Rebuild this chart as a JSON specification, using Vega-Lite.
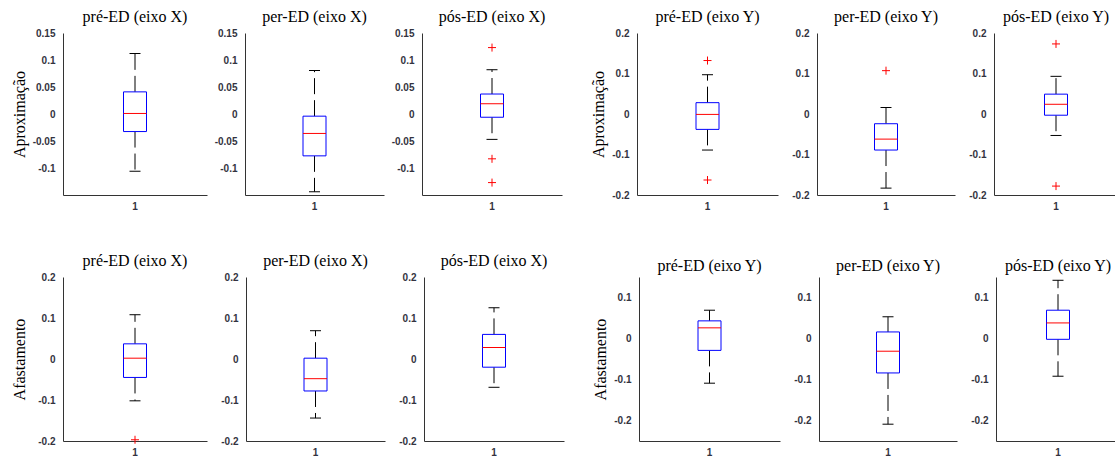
{
  "$schema": "https://vega.github.io/schema/vega-lite/v6.json",
  "padding": {"left": 11, "top": 9, "right": 0, "bottom": 0},
  "datasets": {
    "d": [
      {"p": 1, "n": "1", "lo": -0.106, "q1": -0.0325, "med": 0.001, "q3": 0.041, "hi": 0.112},
      {"p": 2, "n": "1", "lo": -0.144, "q1": -0.0775, "med": -0.036, "q3": -0.004, "hi": 0.0806},
      {"p": 3, "n": "1", "lo": -0.047, "q1": -0.006, "med": 0.019, "q3": 0.037, "hi": 0.082},
      {"p": 3, "n": "1", "out": 0.123},
      {"p": 3, "n": "1", "out": -0.083},
      {"p": 3, "n": "1", "out": -0.127},
      {"p": 4, "n": "1", "lo": -0.089, "q1": -0.038, "med": -0.001, "q3": 0.028, "hi": 0.097},
      {"p": 4, "n": "1", "out": 0.132},
      {"p": 4, "n": "1", "out": -0.163},
      {"p": 5, "n": "1", "lo": -0.183, "q1": -0.089, "med": -0.062, "q3": -0.024, "hi": 0.016},
      {"p": 5, "n": "1", "out": 0.107},
      {"p": 6, "n": "1", "lo": -0.053, "q1": -0.003, "med": 0.024, "q3": 0.049, "hi": 0.093},
      {"p": 6, "n": "1", "out": 0.173},
      {"p": 6, "n": "1", "out": -0.178},
      {"p": 7, "n": "1", "lo": -0.102, "q1": -0.045, "med": 0.002, "q3": 0.037, "hi": 0.108},
      {"p": 7, "n": "1", "out": -0.197},
      {"p": 8, "n": "1", "lo": -0.144, "q1": -0.078, "med": -0.048, "q3": 0.002, "hi": 0.069},
      {"p": 9, "n": "1", "lo": -0.069, "q1": -0.020, "med": 0.028, "q3": 0.060, "hi": 0.125},
      {"p": 10, "n": "1", "lo": -0.109, "q1": -0.029, "med": 0.026, "q3": 0.043, "hi": 0.069},
      {"p": 11, "n": "1", "lo": -0.209, "q1": -0.084, "med": -0.031, "q3": 0.016, "hi": 0.053},
      {"p": 12, "n": "1", "lo": -0.092, "q1": -0.002, "med": 0.038, "q3": 0.069, "hi": 0.142}
    ]
  },
  "spacing": 42,
  "vconcat": [
    {
      "spacing": 28,
      "hconcat": [
        {
          "spacing": 7,
          "hconcat": [
            {
              "width": 144, "height": 162, "title": "pré-ED (eixo X)",
              "data": {"name": "d"}, "transform": [{"filter": "datum.p == 1"}],
              "layer": [
                {"mark": {"type": "rule", "color": "black", "strokeDash": [16, 6]}, "encoding": {"x": {"field": "n", "type": "nominal", "title": null, "scale": {"paddingInner": 0, "paddingOuter": 0}, "axis": {"labelAngle": 0, "labelPadding": 6}}, "y": {"field": "q3", "type": "quantitative", "title": "Aproximação", "scale": {"domain": [-0.15, 0.15], "nice": false, "zero": false}, "axis": {"values": [-0.1, -0.05, 0, 0.05, 0.1, 0.15], "tickCount": 10, "labelExpr": "'' + datum.value"}}, "y2": {"field": "hi"}}},
                {"mark": {"type": "rule", "color": "black", "strokeDash": [16, 6]}, "encoding": {"x": {"field": "n", "type": "nominal", "title": null}, "y": {"field": "q1", "type": "quantitative", "title": "Aproximação"}, "y2": {"field": "lo"}}},
                {"mark": {"type": "bar", "width": 23, "fill": "white", "stroke": "#0000ff", "strokeWidth": 1}, "encoding": {"x": {"field": "n", "type": "nominal", "title": null}, "y": {"field": "q1", "type": "quantitative", "title": "Aproximação"}, "y2": {"field": "q3"}}},
                {"mark": {"type": "tick", "color": "#ff0000", "size": 23, "thickness": 1, "opacity": 1}, "encoding": {"x": {"field": "n", "type": "nominal", "title": null}, "y": {"field": "med", "type": "quantitative", "title": "Aproximação"}}},
                {"mark": {"type": "tick", "color": "black", "size": 11, "thickness": 1, "opacity": 1}, "encoding": {"x": {"field": "n", "type": "nominal", "title": null}, "y": {"field": "hi", "type": "quantitative", "title": "Aproximação"}}},
                {"mark": {"type": "tick", "color": "black", "size": 11, "thickness": 1, "opacity": 1}, "encoding": {"x": {"field": "n", "type": "nominal", "title": null}, "y": {"field": "lo", "type": "quantitative", "title": "Aproximação"}}},
                {"mark": {"type": "point", "shape": "M-1,0H1M0,-1V1", "filled": false, "stroke": "#ff0000", "strokeWidth": 1, "size": 64, "opacity": 1}, "encoding": {"x": {"field": "n", "type": "nominal", "title": null}, "y": {"field": "out", "type": "quantitative", "title": "Aproximação"}}}
              ]
            },
            {
              "width": 139, "height": 162, "title": "per-ED (eixo X)",
              "data": {"name": "d"}, "transform": [{"filter": "datum.p == 2"}],
              "layer": [
                {"mark": {"type": "rule", "color": "black", "strokeDash": [16, 6]}, "encoding": {"x": {"field": "n", "type": "nominal", "title": null, "scale": {"paddingInner": 0, "paddingOuter": 0}, "axis": {"labelAngle": 0, "labelPadding": 6}}, "y": {"field": "q3", "type": "quantitative", "title": null, "scale": {"domain": [-0.15, 0.15], "nice": false, "zero": false}, "axis": {"values": [-0.1, -0.05, 0, 0.05, 0.1, 0.15], "tickCount": 10, "labelExpr": "'' + datum.value"}}, "y2": {"field": "hi"}}},
                {"mark": {"type": "rule", "color": "black", "strokeDash": [16, 6]}, "encoding": {"x": {"field": "n", "type": "nominal", "title": null}, "y": {"field": "q1", "type": "quantitative", "title": null}, "y2": {"field": "lo"}}},
                {"mark": {"type": "bar", "width": 23, "fill": "white", "stroke": "#0000ff", "strokeWidth": 1}, "encoding": {"x": {"field": "n", "type": "nominal", "title": null}, "y": {"field": "q1", "type": "quantitative", "title": null}, "y2": {"field": "q3"}}},
                {"mark": {"type": "tick", "color": "#ff0000", "size": 23, "thickness": 1, "opacity": 1}, "encoding": {"x": {"field": "n", "type": "nominal", "title": null}, "y": {"field": "med", "type": "quantitative", "title": null}}},
                {"mark": {"type": "tick", "color": "black", "size": 11, "thickness": 1, "opacity": 1}, "encoding": {"x": {"field": "n", "type": "nominal", "title": null}, "y": {"field": "hi", "type": "quantitative", "title": null}}},
                {"mark": {"type": "tick", "color": "black", "size": 11, "thickness": 1, "opacity": 1}, "encoding": {"x": {"field": "n", "type": "nominal", "title": null}, "y": {"field": "lo", "type": "quantitative", "title": null}}},
                {"mark": {"type": "point", "shape": "M-1,0H1M0,-1V1", "filled": false, "stroke": "#ff0000", "strokeWidth": 1, "size": 64, "opacity": 1}, "encoding": {"x": {"field": "n", "type": "nominal", "title": null}, "y": {"field": "out", "type": "quantitative", "title": null}}}
              ]
            },
            {
              "width": 140, "height": 162, "title": "pós-ED (eixo X)",
              "data": {"name": "d"}, "transform": [{"filter": "datum.p == 3"}],
              "layer": [
                {"mark": {"type": "rule", "color": "black", "strokeDash": [16, 6]}, "encoding": {"x": {"field": "n", "type": "nominal", "title": null, "scale": {"paddingInner": 0, "paddingOuter": 0}, "axis": {"labelAngle": 0, "labelPadding": 6}}, "y": {"field": "q3", "type": "quantitative", "title": null, "scale": {"domain": [-0.15, 0.15], "nice": false, "zero": false}, "axis": {"values": [-0.1, -0.05, 0, 0.05, 0.1, 0.15], "tickCount": 10, "labelExpr": "'' + datum.value"}}, "y2": {"field": "hi"}}},
                {"mark": {"type": "rule", "color": "black", "strokeDash": [16, 6]}, "encoding": {"x": {"field": "n", "type": "nominal", "title": null}, "y": {"field": "q1", "type": "quantitative", "title": null}, "y2": {"field": "lo"}}},
                {"mark": {"type": "bar", "width": 23, "fill": "white", "stroke": "#0000ff", "strokeWidth": 1}, "encoding": {"x": {"field": "n", "type": "nominal", "title": null}, "y": {"field": "q1", "type": "quantitative", "title": null}, "y2": {"field": "q3"}}},
                {"mark": {"type": "tick", "color": "#ff0000", "size": 23, "thickness": 1, "opacity": 1}, "encoding": {"x": {"field": "n", "type": "nominal", "title": null}, "y": {"field": "med", "type": "quantitative", "title": null}}},
                {"mark": {"type": "tick", "color": "black", "size": 11, "thickness": 1, "opacity": 1}, "encoding": {"x": {"field": "n", "type": "nominal", "title": null}, "y": {"field": "hi", "type": "quantitative", "title": null}}},
                {"mark": {"type": "tick", "color": "black", "size": 11, "thickness": 1, "opacity": 1}, "encoding": {"x": {"field": "n", "type": "nominal", "title": null}, "y": {"field": "lo", "type": "quantitative", "title": null}}},
                {"mark": {"type": "point", "shape": "M-1,0H1M0,-1V1", "filled": false, "stroke": "#ff0000", "strokeWidth": 1, "size": 64, "opacity": 1}, "encoding": {"x": {"field": "n", "type": "nominal", "title": null}, "y": {"field": "out", "type": "quantitative", "title": null}}}
              ]
            }
          ]
        },
        {
          "spacing": 13,
          "hconcat": [
            {
              "width": 141, "height": 162, "title": "pré-ED (eixo Y)",
              "data": {"name": "d"}, "transform": [{"filter": "datum.p == 4"}],
              "layer": [
                {"mark": {"type": "rule", "color": "black", "strokeDash": [16, 6]}, "encoding": {"x": {"field": "n", "type": "nominal", "title": null, "scale": {"paddingInner": 0, "paddingOuter": 0}, "axis": {"labelAngle": 0, "labelPadding": 6}}, "y": {"field": "q3", "type": "quantitative", "title": "Aproximação", "scale": {"domain": [-0.2, 0.2], "nice": false, "zero": false}, "axis": {"values": [-0.2, -0.1, 0, 0.1, 0.2], "tickCount": 10, "labelExpr": "'' + datum.value"}}, "y2": {"field": "hi"}}},
                {"mark": {"type": "rule", "color": "black", "strokeDash": [16, 6]}, "encoding": {"x": {"field": "n", "type": "nominal", "title": null}, "y": {"field": "q1", "type": "quantitative", "title": "Aproximação"}, "y2": {"field": "lo"}}},
                {"mark": {"type": "bar", "width": 23, "fill": "white", "stroke": "#0000ff", "strokeWidth": 1}, "encoding": {"x": {"field": "n", "type": "nominal", "title": null}, "y": {"field": "q1", "type": "quantitative", "title": "Aproximação"}, "y2": {"field": "q3"}}},
                {"mark": {"type": "tick", "color": "#ff0000", "size": 23, "thickness": 1, "opacity": 1}, "encoding": {"x": {"field": "n", "type": "nominal", "title": null}, "y": {"field": "med", "type": "quantitative", "title": "Aproximação"}}},
                {"mark": {"type": "tick", "color": "black", "size": 11, "thickness": 1, "opacity": 1}, "encoding": {"x": {"field": "n", "type": "nominal", "title": null}, "y": {"field": "hi", "type": "quantitative", "title": "Aproximação"}}},
                {"mark": {"type": "tick", "color": "black", "size": 11, "thickness": 1, "opacity": 1}, "encoding": {"x": {"field": "n", "type": "nominal", "title": null}, "y": {"field": "lo", "type": "quantitative", "title": "Aproximação"}}},
                {"mark": {"type": "point", "shape": "M-1,0H1M0,-1V1", "filled": false, "stroke": "#ff0000", "strokeWidth": 1, "size": 64, "opacity": 1}, "encoding": {"x": {"field": "n", "type": "nominal", "title": null}, "y": {"field": "out", "type": "quantitative", "title": "Aproximação"}}}
              ]
            },
            {
              "width": 138, "height": 162, "title": "per-ED (eixo Y)",
              "data": {"name": "d"}, "transform": [{"filter": "datum.p == 5"}],
              "layer": [
                {"mark": {"type": "rule", "color": "black", "strokeDash": [16, 6]}, "encoding": {"x": {"field": "n", "type": "nominal", "title": null, "scale": {"paddingInner": 0, "paddingOuter": 0}, "axis": {"labelAngle": 0, "labelPadding": 6}}, "y": {"field": "q3", "type": "quantitative", "title": null, "scale": {"domain": [-0.2, 0.2], "nice": false, "zero": false}, "axis": {"values": [-0.2, -0.1, 0, 0.1, 0.2], "tickCount": 10, "labelExpr": "'' + datum.value"}}, "y2": {"field": "hi"}}},
                {"mark": {"type": "rule", "color": "black", "strokeDash": [16, 6]}, "encoding": {"x": {"field": "n", "type": "nominal", "title": null}, "y": {"field": "q1", "type": "quantitative", "title": null}, "y2": {"field": "lo"}}},
                {"mark": {"type": "bar", "width": 23, "fill": "white", "stroke": "#0000ff", "strokeWidth": 1}, "encoding": {"x": {"field": "n", "type": "nominal", "title": null}, "y": {"field": "q1", "type": "quantitative", "title": null}, "y2": {"field": "q3"}}},
                {"mark": {"type": "tick", "color": "#ff0000", "size": 23, "thickness": 1, "opacity": 1}, "encoding": {"x": {"field": "n", "type": "nominal", "title": null}, "y": {"field": "med", "type": "quantitative", "title": null}}},
                {"mark": {"type": "tick", "color": "black", "size": 11, "thickness": 1, "opacity": 1}, "encoding": {"x": {"field": "n", "type": "nominal", "title": null}, "y": {"field": "hi", "type": "quantitative", "title": null}}},
                {"mark": {"type": "tick", "color": "black", "size": 11, "thickness": 1, "opacity": 1}, "encoding": {"x": {"field": "n", "type": "nominal", "title": null}, "y": {"field": "lo", "type": "quantitative", "title": null}}},
                {"mark": {"type": "point", "shape": "M-1,0H1M0,-1V1", "filled": false, "stroke": "#ff0000", "strokeWidth": 1, "size": 64, "opacity": 1}, "encoding": {"x": {"field": "n", "type": "nominal", "title": null}, "y": {"field": "out", "type": "quantitative", "title": null}}}
              ]
            },
            {
              "width": 124, "height": 162, "title": "pós-ED (eixo Y)",
              "data": {"name": "d"}, "transform": [{"filter": "datum.p == 6"}],
              "layer": [
                {"mark": {"type": "rule", "color": "black", "strokeDash": [16, 6]}, "encoding": {"x": {"field": "n", "type": "nominal", "title": null, "scale": {"paddingInner": 0, "paddingOuter": 0}, "axis": {"labelAngle": 0, "labelPadding": 6}}, "y": {"field": "q3", "type": "quantitative", "title": null, "scale": {"domain": [-0.2, 0.2], "nice": false, "zero": false}, "axis": {"values": [-0.2, -0.1, 0, 0.1, 0.2], "tickCount": 10, "labelExpr": "'' + datum.value"}}, "y2": {"field": "hi"}}},
                {"mark": {"type": "rule", "color": "black", "strokeDash": [16, 6]}, "encoding": {"x": {"field": "n", "type": "nominal", "title": null}, "y": {"field": "q1", "type": "quantitative", "title": null}, "y2": {"field": "lo"}}},
                {"mark": {"type": "bar", "width": 23, "fill": "white", "stroke": "#0000ff", "strokeWidth": 1}, "encoding": {"x": {"field": "n", "type": "nominal", "title": null}, "y": {"field": "q1", "type": "quantitative", "title": null}, "y2": {"field": "q3"}}},
                {"mark": {"type": "tick", "color": "#ff0000", "size": 23, "thickness": 1, "opacity": 1}, "encoding": {"x": {"field": "n", "type": "nominal", "title": null}, "y": {"field": "med", "type": "quantitative", "title": null}}},
                {"mark": {"type": "tick", "color": "black", "size": 11, "thickness": 1, "opacity": 1}, "encoding": {"x": {"field": "n", "type": "nominal", "title": null}, "y": {"field": "hi", "type": "quantitative", "title": null}}},
                {"mark": {"type": "tick", "color": "black", "size": 11, "thickness": 1, "opacity": 1}, "encoding": {"x": {"field": "n", "type": "nominal", "title": null}, "y": {"field": "lo", "type": "quantitative", "title": null}}},
                {"mark": {"type": "point", "shape": "M-1,0H1M0,-1V1", "filled": false, "stroke": "#ff0000", "strokeWidth": 1, "size": 64, "opacity": 1}, "encoding": {"x": {"field": "n", "type": "nominal", "title": null}, "y": {"field": "out", "type": "quantitative", "title": null}}}
              ]
            }
          ]
        }
      ]
    },
    {
      "spacing": 28,
      "hconcat": [
        {
          "spacing": 13,
          "hconcat": [
            {
              "width": 144, "height": 164, "title": "pré-ED (eixo X)",
              "data": {"name": "d"}, "transform": [{"filter": "datum.p == 7"}],
              "layer": [
                {"mark": {"type": "rule", "color": "black", "strokeDash": [16, 6]}, "encoding": {"x": {"field": "n", "type": "nominal", "title": null, "scale": {"paddingInner": 0, "paddingOuter": 0}, "axis": {"labelAngle": 0, "labelPadding": 6}}, "y": {"field": "q3", "type": "quantitative", "title": "Afastamento", "scale": {"domain": [-0.2, 0.2], "nice": false, "zero": false}, "axis": {"values": [-0.2, -0.1, 0, 0.1, 0.2], "tickCount": 10, "labelExpr": "'' + datum.value", "minExtent": 31}}, "y2": {"field": "hi"}}},
                {"mark": {"type": "rule", "color": "black", "strokeDash": [16, 6]}, "encoding": {"x": {"field": "n", "type": "nominal", "title": null}, "y": {"field": "q1", "type": "quantitative", "title": "Afastamento"}, "y2": {"field": "lo"}}},
                {"mark": {"type": "bar", "width": 23, "fill": "white", "stroke": "#0000ff", "strokeWidth": 1}, "encoding": {"x": {"field": "n", "type": "nominal", "title": null}, "y": {"field": "q1", "type": "quantitative", "title": "Afastamento"}, "y2": {"field": "q3"}}},
                {"mark": {"type": "tick", "color": "#ff0000", "size": 23, "thickness": 1, "opacity": 1}, "encoding": {"x": {"field": "n", "type": "nominal", "title": null}, "y": {"field": "med", "type": "quantitative", "title": "Afastamento"}}},
                {"mark": {"type": "tick", "color": "black", "size": 11, "thickness": 1, "opacity": 1}, "encoding": {"x": {"field": "n", "type": "nominal", "title": null}, "y": {"field": "hi", "type": "quantitative", "title": "Afastamento"}}},
                {"mark": {"type": "tick", "color": "black", "size": 11, "thickness": 1, "opacity": 1}, "encoding": {"x": {"field": "n", "type": "nominal", "title": null}, "y": {"field": "lo", "type": "quantitative", "title": "Afastamento"}}},
                {"mark": {"type": "point", "shape": "M-1,0H1M0,-1V1", "filled": false, "stroke": "#ff0000", "strokeWidth": 1, "size": 64, "opacity": 1}, "encoding": {"x": {"field": "n", "type": "nominal", "title": null}, "y": {"field": "out", "type": "quantitative", "title": "Afastamento"}}}
              ]
            },
            {
              "width": 139, "height": 164, "title": "per-ED (eixo X)",
              "data": {"name": "d"}, "transform": [{"filter": "datum.p == 8"}],
              "layer": [
                {"mark": {"type": "rule", "color": "black", "strokeDash": [16, 6]}, "encoding": {"x": {"field": "n", "type": "nominal", "title": null, "scale": {"paddingInner": 0, "paddingOuter": 0}, "axis": {"labelAngle": 0, "labelPadding": 6}}, "y": {"field": "q3", "type": "quantitative", "title": null, "scale": {"domain": [-0.2, 0.2], "nice": false, "zero": false}, "axis": {"values": [-0.2, -0.1, 0, 0.1, 0.2], "tickCount": 10, "labelExpr": "'' + datum.value"}}, "y2": {"field": "hi"}}},
                {"mark": {"type": "rule", "color": "black", "strokeDash": [16, 6]}, "encoding": {"x": {"field": "n", "type": "nominal", "title": null}, "y": {"field": "q1", "type": "quantitative", "title": null}, "y2": {"field": "lo"}}},
                {"mark": {"type": "bar", "width": 23, "fill": "white", "stroke": "#0000ff", "strokeWidth": 1}, "encoding": {"x": {"field": "n", "type": "nominal", "title": null}, "y": {"field": "q1", "type": "quantitative", "title": null}, "y2": {"field": "q3"}}},
                {"mark": {"type": "tick", "color": "#ff0000", "size": 23, "thickness": 1, "opacity": 1}, "encoding": {"x": {"field": "n", "type": "nominal", "title": null}, "y": {"field": "med", "type": "quantitative", "title": null}}},
                {"mark": {"type": "tick", "color": "black", "size": 11, "thickness": 1, "opacity": 1}, "encoding": {"x": {"field": "n", "type": "nominal", "title": null}, "y": {"field": "hi", "type": "quantitative", "title": null}}},
                {"mark": {"type": "tick", "color": "black", "size": 11, "thickness": 1, "opacity": 1}, "encoding": {"x": {"field": "n", "type": "nominal", "title": null}, "y": {"field": "lo", "type": "quantitative", "title": null}}},
                {"mark": {"type": "point", "shape": "M-1,0H1M0,-1V1", "filled": false, "stroke": "#ff0000", "strokeWidth": 1, "size": 64, "opacity": 1}, "encoding": {"x": {"field": "n", "type": "nominal", "title": null}, "y": {"field": "out", "type": "quantitative", "title": null}}}
              ]
            },
            {
              "width": 140, "height": 164, "title": "pós-ED (eixo X)",
              "data": {"name": "d"}, "transform": [{"filter": "datum.p == 9"}],
              "layer": [
                {"mark": {"type": "rule", "color": "black", "strokeDash": [16, 6]}, "encoding": {"x": {"field": "n", "type": "nominal", "title": null, "scale": {"paddingInner": 0, "paddingOuter": 0}, "axis": {"labelAngle": 0, "labelPadding": 6}}, "y": {"field": "q3", "type": "quantitative", "title": null, "scale": {"domain": [-0.2, 0.2], "nice": false, "zero": false}, "axis": {"values": [-0.2, -0.1, 0, 0.1, 0.2], "tickCount": 10, "labelExpr": "'' + datum.value"}}, "y2": {"field": "hi"}}},
                {"mark": {"type": "rule", "color": "black", "strokeDash": [16, 6]}, "encoding": {"x": {"field": "n", "type": "nominal", "title": null}, "y": {"field": "q1", "type": "quantitative", "title": null}, "y2": {"field": "lo"}}},
                {"mark": {"type": "bar", "width": 23, "fill": "white", "stroke": "#0000ff", "strokeWidth": 1}, "encoding": {"x": {"field": "n", "type": "nominal", "title": null}, "y": {"field": "q1", "type": "quantitative", "title": null}, "y2": {"field": "q3"}}},
                {"mark": {"type": "tick", "color": "#ff0000", "size": 23, "thickness": 1, "opacity": 1}, "encoding": {"x": {"field": "n", "type": "nominal", "title": null}, "y": {"field": "med", "type": "quantitative", "title": null}}},
                {"mark": {"type": "tick", "color": "black", "size": 11, "thickness": 1, "opacity": 1}, "encoding": {"x": {"field": "n", "type": "nominal", "title": null}, "y": {"field": "hi", "type": "quantitative", "title": null}}},
                {"mark": {"type": "tick", "color": "black", "size": 11, "thickness": 1, "opacity": 1}, "encoding": {"x": {"field": "n", "type": "nominal", "title": null}, "y": {"field": "lo", "type": "quantitative", "title": null}}},
                {"mark": {"type": "point", "shape": "M-1,0H1M0,-1V1", "filled": false, "stroke": "#ff0000", "strokeWidth": 1, "size": 64, "opacity": 1}, "encoding": {"x": {"field": "n", "type": "nominal", "title": null}, "y": {"field": "out", "type": "quantitative", "title": null}}}
              ]
            }
          ]
        },
        {
          "spacing": 13,
          "hconcat": [
            {
              "width": 141, "height": 164, "title": "pré-ED (eixo Y)",
              "data": {"name": "d"}, "transform": [{"filter": "datum.p == 10"}],
              "layer": [
                {"mark": {"type": "rule", "color": "black", "strokeDash": [16, 6]}, "encoding": {"x": {"field": "n", "type": "nominal", "title": null, "scale": {"paddingInner": 0, "paddingOuter": 0}, "axis": {"labelAngle": 0, "labelPadding": 6}}, "y": {"field": "q3", "type": "quantitative", "title": "Afastamento", "scale": {"domain": [-0.25, 0.15], "nice": false, "zero": false}, "axis": {"values": [-0.2, -0.1, 0, 0.1], "tickCount": 10, "labelExpr": "'' + datum.value"}}, "y2": {"field": "hi"}}},
                {"mark": {"type": "rule", "color": "black", "strokeDash": [16, 6]}, "encoding": {"x": {"field": "n", "type": "nominal", "title": null}, "y": {"field": "q1", "type": "quantitative", "title": "Afastamento"}, "y2": {"field": "lo"}}},
                {"mark": {"type": "bar", "width": 23, "fill": "white", "stroke": "#0000ff", "strokeWidth": 1}, "encoding": {"x": {"field": "n", "type": "nominal", "title": null}, "y": {"field": "q1", "type": "quantitative", "title": "Afastamento"}, "y2": {"field": "q3"}}},
                {"mark": {"type": "tick", "color": "#ff0000", "size": 23, "thickness": 1, "opacity": 1}, "encoding": {"x": {"field": "n", "type": "nominal", "title": null}, "y": {"field": "med", "type": "quantitative", "title": "Afastamento"}}},
                {"mark": {"type": "tick", "color": "black", "size": 11, "thickness": 1, "opacity": 1}, "encoding": {"x": {"field": "n", "type": "nominal", "title": null}, "y": {"field": "hi", "type": "quantitative", "title": "Afastamento"}}},
                {"mark": {"type": "tick", "color": "black", "size": 11, "thickness": 1, "opacity": 1}, "encoding": {"x": {"field": "n", "type": "nominal", "title": null}, "y": {"field": "lo", "type": "quantitative", "title": "Afastamento"}}},
                {"mark": {"type": "point", "shape": "M-1,0H1M0,-1V1", "filled": false, "stroke": "#ff0000", "strokeWidth": 1, "size": 64, "opacity": 1}, "encoding": {"x": {"field": "n", "type": "nominal", "title": null}, "y": {"field": "out", "type": "quantitative", "title": "Afastamento"}}}
              ]
            },
            {
              "width": 138, "height": 164, "title": "per-ED (eixo Y)",
              "data": {"name": "d"}, "transform": [{"filter": "datum.p == 11"}],
              "layer": [
                {"mark": {"type": "rule", "color": "black", "strokeDash": [16, 6]}, "encoding": {"x": {"field": "n", "type": "nominal", "title": null, "scale": {"paddingInner": 0, "paddingOuter": 0}, "axis": {"labelAngle": 0, "labelPadding": 6}}, "y": {"field": "q3", "type": "quantitative", "title": null, "scale": {"domain": [-0.25, 0.15], "nice": false, "zero": false}, "axis": {"values": [-0.2, -0.1, 0, 0.1], "tickCount": 10, "labelExpr": "'' + datum.value"}}, "y2": {"field": "hi"}}},
                {"mark": {"type": "rule", "color": "black", "strokeDash": [16, 6]}, "encoding": {"x": {"field": "n", "type": "nominal", "title": null}, "y": {"field": "q1", "type": "quantitative", "title": null}, "y2": {"field": "lo"}}},
                {"mark": {"type": "bar", "width": 23, "fill": "white", "stroke": "#0000ff", "strokeWidth": 1}, "encoding": {"x": {"field": "n", "type": "nominal", "title": null}, "y": {"field": "q1", "type": "quantitative", "title": null}, "y2": {"field": "q3"}}},
                {"mark": {"type": "tick", "color": "#ff0000", "size": 23, "thickness": 1, "opacity": 1}, "encoding": {"x": {"field": "n", "type": "nominal", "title": null}, "y": {"field": "med", "type": "quantitative", "title": null}}},
                {"mark": {"type": "tick", "color": "black", "size": 11, "thickness": 1, "opacity": 1}, "encoding": {"x": {"field": "n", "type": "nominal", "title": null}, "y": {"field": "hi", "type": "quantitative", "title": null}}},
                {"mark": {"type": "tick", "color": "black", "size": 11, "thickness": 1, "opacity": 1}, "encoding": {"x": {"field": "n", "type": "nominal", "title": null}, "y": {"field": "lo", "type": "quantitative", "title": null}}},
                {"mark": {"type": "point", "shape": "M-1,0H1M0,-1V1", "filled": false, "stroke": "#ff0000", "strokeWidth": 1, "size": 64, "opacity": 1}, "encoding": {"x": {"field": "n", "type": "nominal", "title": null}, "y": {"field": "out", "type": "quantitative", "title": null}}}
              ]
            },
            {
              "width": 124, "height": 164, "title": "pós-ED (eixo Y)",
              "data": {"name": "d"}, "transform": [{"filter": "datum.p == 12"}],
              "layer": [
                {"mark": {"type": "rule", "color": "black", "strokeDash": [16, 6]}, "encoding": {"x": {"field": "n", "type": "nominal", "title": null, "scale": {"paddingInner": 0, "paddingOuter": 0}, "axis": {"labelAngle": 0, "labelPadding": 6}}, "y": {"field": "q3", "type": "quantitative", "title": null, "scale": {"domain": [-0.25, 0.15], "nice": false, "zero": false}, "axis": {"values": [-0.2, -0.1, 0, 0.1], "tickCount": 10, "labelExpr": "'' + datum.value"}}, "y2": {"field": "hi"}}},
                {"mark": {"type": "rule", "color": "black", "strokeDash": [16, 6]}, "encoding": {"x": {"field": "n", "type": "nominal", "title": null}, "y": {"field": "q1", "type": "quantitative", "title": null}, "y2": {"field": "lo"}}},
                {"mark": {"type": "bar", "width": 23, "fill": "white", "stroke": "#0000ff", "strokeWidth": 1}, "encoding": {"x": {"field": "n", "type": "nominal", "title": null}, "y": {"field": "q1", "type": "quantitative", "title": null}, "y2": {"field": "q3"}}},
                {"mark": {"type": "tick", "color": "#ff0000", "size": 23, "thickness": 1, "opacity": 1}, "encoding": {"x": {"field": "n", "type": "nominal", "title": null}, "y": {"field": "med", "type": "quantitative", "title": null}}},
                {"mark": {"type": "tick", "color": "black", "size": 11, "thickness": 1, "opacity": 1}, "encoding": {"x": {"field": "n", "type": "nominal", "title": null}, "y": {"field": "hi", "type": "quantitative", "title": null}}},
                {"mark": {"type": "tick", "color": "black", "size": 11, "thickness": 1, "opacity": 1}, "encoding": {"x": {"field": "n", "type": "nominal", "title": null}, "y": {"field": "lo", "type": "quantitative", "title": null}}},
                {"mark": {"type": "point", "shape": "M-1,0H1M0,-1V1", "filled": false, "stroke": "#ff0000", "strokeWidth": 1, "size": 64, "opacity": 1}, "encoding": {"x": {"field": "n", "type": "nominal", "title": null}, "y": {"field": "out", "type": "quantitative", "title": null}}}
              ]
            }
          ]
        }
      ]
    }
  ],
  "config": {
    "view": {"stroke": null},
    "axis": {"domainColor": "#333333", "domainWidth": 1, "ticks": false, "tickSize": 0, "grid": false, "labelOverlap": false, "labelFont": "Liberation Sans", "labelFontSize": 10, "labelFontWeight": "bold", "labelColor": "#333340", "labelPadding": 8, "titleFont": "Liberation Serif", "titleFontSize": 16, "titleFontWeight": "normal", "titleColor": "black", "titlePadding": 5},
    "axisY": {"tickCount": 10},
    "title": {"font": "Liberation Serif", "fontSize": 16, "fontWeight": "normal", "color": "black", "offset": 3, "anchor": "middle"}
  }
}
